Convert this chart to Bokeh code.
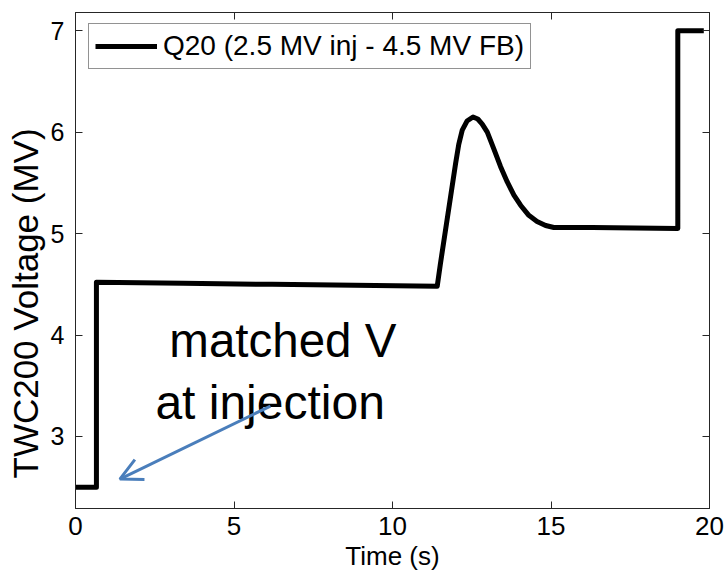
from bokeh.plotting import figure
from bokeh.models import (LinearAxis, Range1d, Label, Arrow, OpenHead, Title,
                          FixedTicker, CustomJSTickFormatter, ColumnDataSource)
from bokeh.embed import file_html
from bokeh.resources import INLINE

# ---- data ----
time_s = [0.0, 0.66, 0.66, 3.4, 6.2, 8.8, 11.41, 11.51, 11.67, 11.83, 11.99,
          12.09, 12.20, 12.35, 12.54, 12.69, 12.83, 12.99, 13.19, 13.41,
          13.62, 13.83, 14.04, 14.30, 14.56, 14.83, 15.09, 16.3, 19.0, 19.0,
          19.82]
voltage_mv = [2.5, 2.5, 4.52, 4.51, 4.50, 4.49, 4.48, 4.70, 5.03, 5.36, 5.69,
              5.88, 6.02, 6.11, 6.15, 6.13, 6.08, 6.00, 5.84, 5.66,
              5.51, 5.38, 5.28, 5.18, 5.12, 5.08, 5.06, 5.06, 5.05, 7.0,
              7.0]
series_name = "Q20 (2.5 MV inj - 4.5 MV FB)"
x_ticks = [0, 5, 10, 15, 20]
y_ticks = [3, 4, 5, 6, 7]
x_title = "Time (s)"
y_title = "TWC200 Voltage (MV)"
note_lines = ["matched V", "at injection"]
note_x = [2.96, 2.52]
note_y = [3.945, 3.338]
arrow_start = (6.15, 3.30)
arrow_end = (1.40, 2.58)

FONT = "Liberation Sans"
AX = "#262626"

p = figure(width=725, height=575, output_backend="svg", toolbar_location=None,
           x_range=Range1d(0, 20), y_range=Range1d(2.29, 7.18),
           min_border_left=75, min_border_right=16, min_border_top=12,
           min_border_bottom=67, background_fill_color="white",
           border_fill_color="white")
p.grid.visible = False
p.outline_line_color = AX
p.outline_line_width = 1

src = ColumnDataSource(dict(t=time_s, v=voltage_mv))
p.line("t", "v", source=src, line_color="black", line_width=5,
       line_join="round", legend_label=series_name)

# axes
for ax in (p.xaxis[0], p.yaxis[0]):
    ax.major_tick_in = 7
    ax.major_tick_out = 0
    ax.minor_tick_in = 0
    ax.minor_tick_out = 0
    ax.axis_line_color = AX
    ax.major_tick_line_color = AX
    ax.major_label_text_font = FONT
    ax.major_label_text_color = "black"

p.xaxis[0].ticker = FixedTicker(ticks=x_ticks)
p.yaxis[0].ticker = FixedTicker(ticks=y_ticks)
p.xaxis[0].major_label_text_font_size = "26px"
p.yaxis[0].major_label_text_font_size = "25px"
p.xaxis[0].major_label_standoff = 8
p.yaxis[0].major_label_standoff = 11

blank = CustomJSTickFormatter(code="return ''")
top_ax = LinearAxis(ticker=FixedTicker(ticks=x_ticks), formatter=blank,
                    major_tick_in=7, major_tick_out=0, minor_tick_in=0,
                    minor_tick_out=0, major_label_standoff=0,
                    axis_line_color=AX, major_tick_line_color=AX,
                    major_label_text_font_size="1px")
right_ax = LinearAxis(ticker=FixedTicker(ticks=y_ticks), formatter=blank,
                      major_tick_in=7, major_tick_out=0, minor_tick_in=0,
                      minor_tick_out=0, major_label_standoff=0,
                      axis_line_color=AX, major_tick_line_color=AX,
                      major_label_text_font_size="1px")
p.add_layout(top_ax, "above")
p.add_layout(right_ax, "right")

# axis titles
p.add_layout(Title(text=x_title, text_font=FONT, text_font_size="26px",
                   text_font_style="normal", text_color="black",
                   align="center", standoff=3), "below")
p.add_layout(Title(text=y_title, text_font=FONT, text_font_size="35px",
                   text_font_style="normal", text_color="black",
                   align="left", offset=30, standoff=5), "left")

# legend
lg = p.legend[0]
lg.location = (13, 439)
lg.label_text_font = FONT
lg.label_text_font_size = "28px"
lg.label_text_color = "black"
lg.glyph_width = 62
lg.glyph_height = 28
lg.label_standoff = 6
lg.padding = 6
lg.margin = 0
lg.border_line_color = AX
lg.border_line_width = 1
lg.background_fill_color = "white"
lg.background_fill_alpha = 1

# annotation text and arrow
note_sizes = ["47.5px", "48px"]
for txt, tx, ty, fs in zip(note_lines, note_x, note_y, note_sizes):
    p.add_layout(Label(x=tx, y=ty, text=txt, text_font=FONT,
                       text_font_size=fs, text_color="black",
                       text_baseline="alphabetic", text_align="left"))

p.add_layout(Arrow(x_start=arrow_start[0], y_start=arrow_start[1],
                   x_end=arrow_end[0], y_end=arrow_end[1],
                   line_color="#4A7EBB", line_width=3,
                   end=OpenHead(size=22, line_color="#4A7EBB", line_width=3)))

open("out.html", "w").write(file_html(p, INLINE))
